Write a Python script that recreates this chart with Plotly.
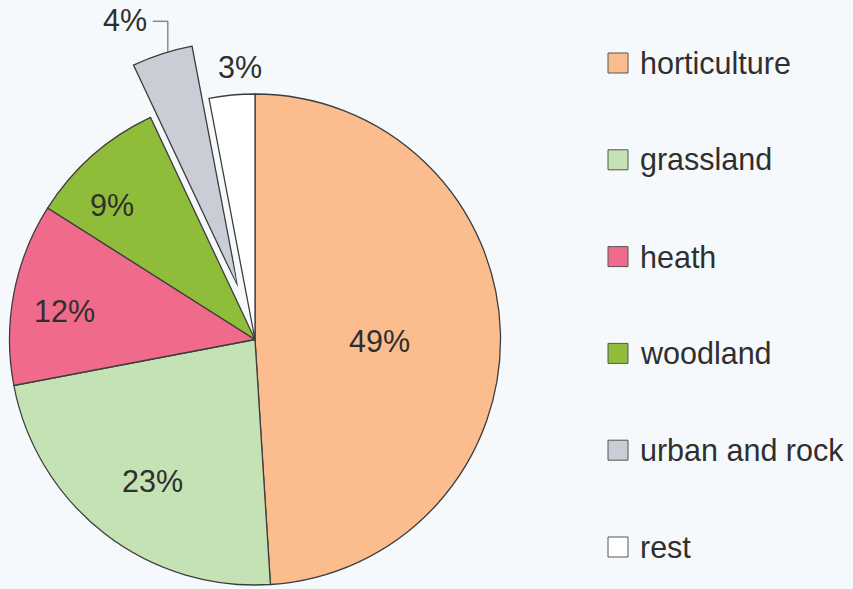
import math
import plotly.graph_objects as go

# Land-use shares (percent), drawn clockwise from 12 o'clock
categories = ["horticulture", "grassland", "heath", "woodland", "urban and rock", "rest"]
shares = [49, 23, 12, 9, 4, 3]
colors = ["#fbbd8e", "#c4e2b4", "#ef6a8b", "#8fbd3a", "#c9cdd5", "#ffffff"]
exploded = "urban and rock"

# ---- geometry / style ----
W, H = 853, 589
CX, CY, R = 255.0, 339.5, 245.5      # pie centre and radius in px
RMAX = 1.01                           # radial range head-room so outlines are not clipped
PULL = 0.224                          # pull-out of the exploded slice, fraction of radius
EDGE = "#3d3d3d"
EDGE_W = 1.3
TEXT = "#2f2f2f"
FONT = "Liberation Sans, Arial, sans-serif"
FS = 30.5
BG = "#f6f9fb"

# label placement: (radius fraction, angular nudge in degrees)
label_place = [(0.507, 2.5), (0.712, -1.9), (0.783, -2.3), (0.80, -5.4), (1.178, -4.6), (1.112, 2.2)]

total = float(sum(shares))
starts, acc = [], 0.0
for v in shares:
    starts.append(acc)
    acc += v
mid_deg = [(s + v / 2) / total * 360 for s, v in zip(starts, shares)]
span_deg = [v / total * 360 for v in shares]

Rpx = R * RMAX


def px_x(x):
    return x / W


def px_y(y):
    return 1 - y / H


def on_circle(cx, cy, rad, theta_cw):
    t = math.radians(theta_cw)
    return cx + rad * math.sin(t), cy - rad * math.cos(t)


def sector_bbox(s0, s1):
    pts = [(0.0, 0.0)]
    angles = [s0, s1] + [k * 90 for k in range(-4, 9) if s0 <= k * 90 <= s1]
    for a in angles:
        pts.append((math.cos(math.radians(a)), math.sin(math.radians(a))))
    xs = [p[0] for p in pts]
    ys = [p[1] for p in pts]
    return min(xs), min(ys), max(xs), max(ys)


fig = go.Figure()

ix = categories.index(exploded)
for i, (cat, v, col) in enumerate(zip(categories, shares, colors)):
    fig.add_trace(go.Barpolar(
        r=[1.0], theta=[mid_deg[i]], width=[span_deg[i]],
        name=cat, showlegend=False,
        marker=dict(color=col, line=dict(color=EDGE, width=EDGE_W)),
        subplot="polar2" if cat == exploded else "polar",
        hovertemplate=f"{cat}: {v}%<extra></extra>",
    ))

angular = dict(visible=False, rotation=90, direction="clockwise",
               showgrid=False, showline=False, showticklabels=False, ticks="")
radial = dict(visible=False, range=[0, RMAX], showgrid=False, showline=False,
              showticklabels=False, ticks="")

# main pie frame
dom1 = dict(x=[px_x(CX - Rpx), px_x(CX + Rpx)], y=[px_y(CY + Rpx), px_y(CY - Rpx)])

# exploded slice: its own frame, centre shifted along the slice bisector
d = PULL * R
cbx, cby = on_circle(CX, CY, d, mid_deg[ix])
a_lo = 90 - (starts[ix] + shares[ix]) / total * 360
a_hi = 90 - starts[ix] / total * 360
a_lo, a_hi = a_lo % 360, a_lo % 360 + (a_hi - a_lo)
sector2 = [a_lo - 2, a_hi + 2]
bx0, by0, bx1, by1 = sector_bbox(*sector2)
dom2 = dict(x=[px_x(cbx + Rpx * bx0), px_x(cbx + Rpx * bx1)],
            y=[px_y(cby - Rpx * by0), px_y(cby - Rpx * by1)])

annotations = []
shapes = []
for i, (v, (rf, nudge)) in enumerate(zip(shares, label_place)):
    if categories[i] == exploded:
        continue
    x, y = on_circle(CX, CY, rf * R, mid_deg[i] + nudge)
    annotations.append(dict(x=px_x(x), y=px_y(y), xref="paper", yref="paper",
                            text=f"{v}%", showarrow=False, xanchor="center", yanchor="middle",
                            font=dict(family=FONT, size=FS, color=TEXT)))

# exploded slice label with elbow leader line
rf, nudge = label_place[ix]
lx, ly = on_circle(cbx, cby, rf * R, mid_deg[ix] + nudge)
annotations.append(dict(x=px_x(lx + 22), y=px_y(ly), xref="paper", yref="paper",
                        text=f"{shares[ix]}%", showarrow=False, xanchor="right", yanchor="middle",
                        font=dict(family=FONT, size=FS, color=TEXT)))
ax, ay = on_circle(cbx, cby, R, mid_deg[ix] + 1.4)
shapes.append(dict(type="path", xref="paper", yref="paper",
                   path=f"M{px_x(lx + 26)},{px_y(ly + 1)} L{px_x(ax)},{px_y(ly + 1)} L{px_x(ax)},{px_y(ay)}",
                   line=dict(color="#555555", width=1)))

# legend: swatch + name per category
LEG_X, LEG_Y0, LEG_DY, SW = 608, 63, 96.8, 20
for i, (cat, col) in enumerate(zip(categories, colors)):
    yc = LEG_Y0 + i * LEG_DY
    shapes.append(dict(type="rect", xref="paper", yref="paper",
                       x0=px_x(LEG_X), x1=px_x(LEG_X + SW), y0=px_y(yc + SW / 2), y1=px_y(yc - SW / 2),
                       fillcolor=col, line=dict(color="#555555", width=1)))
    annotations.append(dict(x=px_x(LEG_X + SW + 10), y=px_y(yc), xref="paper", yref="paper",
                            text=cat, showarrow=False, xanchor="left", yanchor="middle",
                            font=dict(family=FONT, size=FS, color=TEXT)))

fig.update_layout(
    width=W, height=H,
    margin=dict(l=0, r=0, t=0, b=0, pad=0),
    paper_bgcolor=BG, plot_bgcolor=BG,
    showlegend=False,
    polar=dict(domain=dom1, sector=[0, 360], bgcolor="rgba(0,0,0,0)",
               angularaxis=angular, radialaxis=radial),
    polar2=dict(domain=dom2, sector=sector2, bgcolor="rgba(0,0,0,0)",
                angularaxis=angular, radialaxis=radial),
    annotations=annotations,
    shapes=shapes,
)

fig.write_html("out.html")
